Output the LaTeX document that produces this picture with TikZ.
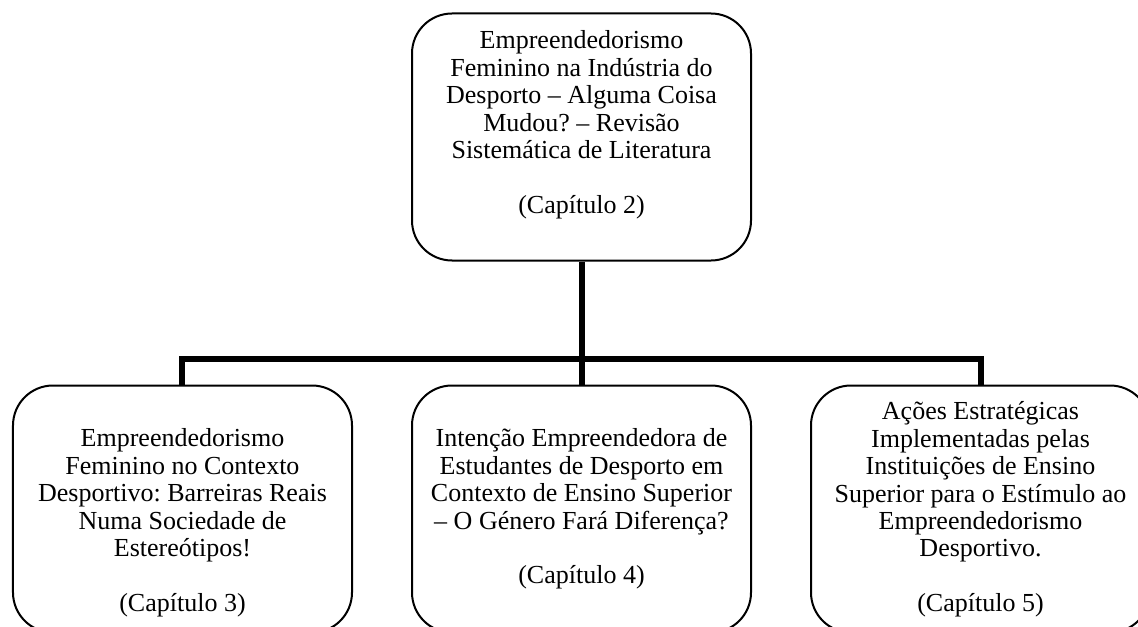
\documentclass[tikz,border=0pt]{standalone}
\usepackage{fontspec}
\setmainfont{Liberation Serif}
\usetikzlibrary{positioning}
\frenchspacing

\begin{document}
\begin{tikzpicture}[
    node distance=61.5pt and 29pt,
    font=\fontsize{13}{13.7}\selectfont,
    chapter/.style={
        draw=black,
        line width=1pt,
        rectangle,
        rounded corners=20pt,
        minimum width=169.5pt,
        minimum height=123.5pt,
        inner sep=0pt
    },
    caption/.style={
        align=center,
        inner sep=0pt
    },
    link/.style={line width=3pt, color=black}
]

    \useasboundingbox (-290.75pt,-244.5pt) rectangle (278.25pt,68.5pt);

    % Boxes
    \node[chapter] (ch2) {};
    \node[chapter, below=of ch2] (ch4) {};
    \node[chapter, left=of ch4] (ch3) {};
    \node[chapter, right=of ch4] (ch5) {};

    % Texts
    \node[caption, below=9pt of ch2.north] (ch2txt) {Empreendedorismo\\Feminino na Indústria do\\Desporto – Alguma Coisa\\Mudou? – Revisão\\Sistemática de Literatura\\[13.7pt](Capítulo 2)};
    \node[caption, below=22pt of ch3.north] (ch3txt) {Empreendedorismo\\Feminino no Contexto\\Desportivo: Barreiras Reais\\Numa Sociedade de\\Estereótipos!\\[13.7pt](Capítulo 3)};
    \node[caption, below=22pt of ch4.north] (ch4txt) {Intenção Empreendedora de\\Estudantes de Desporto em\\Contexto de Ensino Superior\\– O Género Fará Diferença?\\[13.7pt](Capítulo 4)};
    \node[caption, below=8.5pt of ch5.north] (ch5txt) {Ações Estratégicas\\Implementadas pelas\\Instituições de Ensino\\Superior para o Estímulo ao\\Empreendedorismo\\Desportivo.\\[13.7pt](Capítulo 5)};

    % Edges
    \coordinate[above=13pt of ch4.north] (bar);
    \draw[link] (ch2.south) -- (ch4.north);
    \draw[link] (ch3.north) |- (bar) -| (ch5.north);

\end{tikzpicture}
\end{document}
